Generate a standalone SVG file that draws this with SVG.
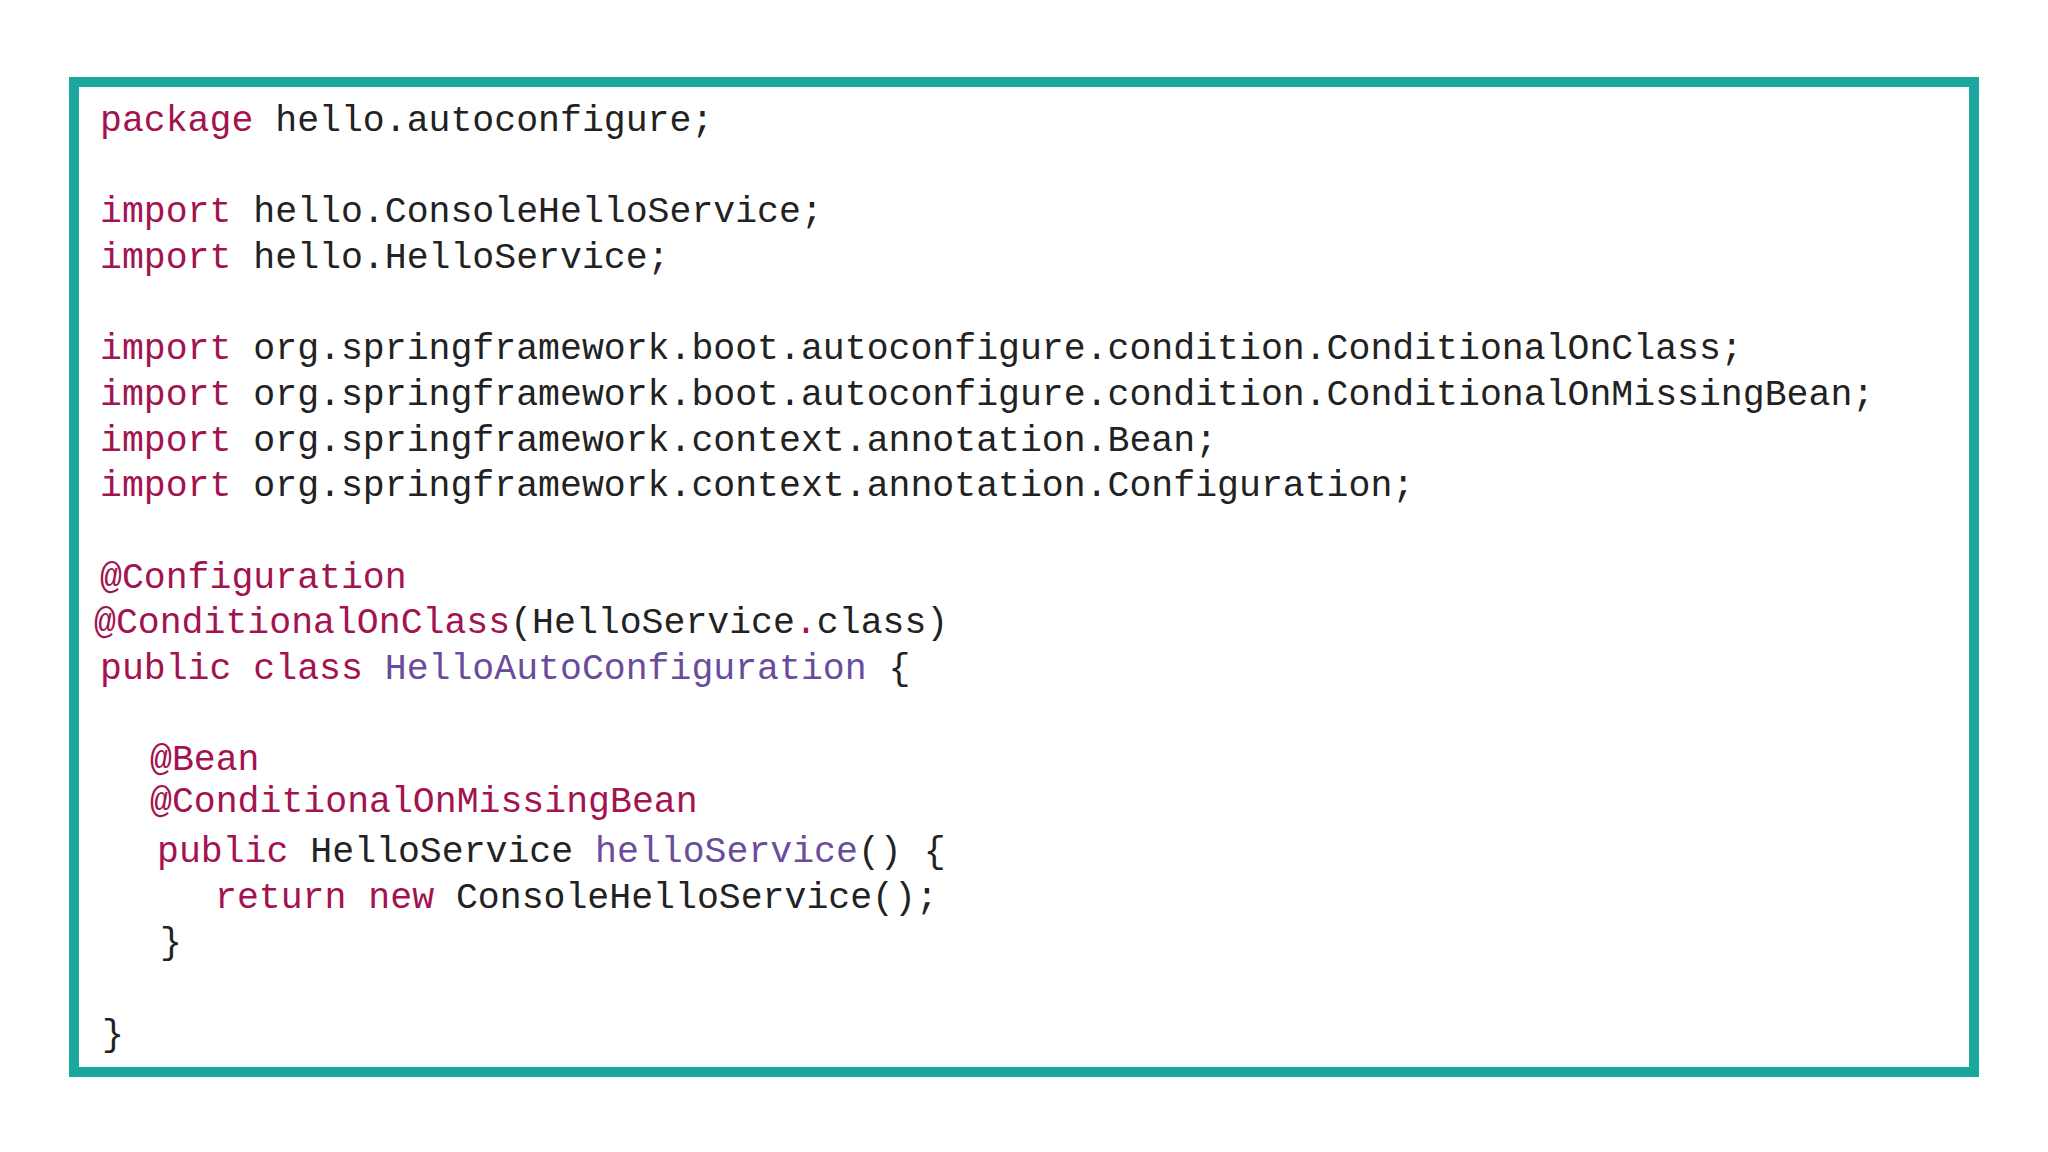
<svg xmlns="http://www.w3.org/2000/svg" width="2048" height="1152" viewBox="0 0 2048 1152">
<style>
text{font-family:"Liberation Mono","DejaVu Sans Mono",monospace;font-size:36.5px;fill:#222;white-space:pre}
.k{fill:#a3134f}.p{fill:#6a4c9c}
</style>
<rect width="2048" height="1152" fill="#fff"/>
<g id="frame"><rect x="74" y="82" width="1900" height="990" fill="none" stroke="#1aa89e" stroke-width="10"/></g>
<g id="code">
<text x="100" y="131"><tspan class="k">package</tspan> hello.autoconfigure;</text>
<text x="100" y="222"><tspan class="k">import</tspan> hello.ConsoleHelloService;</text>
<text x="100" y="268"><tspan class="k">import</tspan> hello.HelloService;</text>
<text x="100" y="359"><tspan class="k">import</tspan> org.springframework.boot.autoconfigure.condition.ConditionalOnClass;</text>
<text x="100" y="405"><tspan class="k">import</tspan> org.springframework.boot.autoconfigure.condition.ConditionalOnMissingBean;</text>
<text x="100" y="451"><tspan class="k">import</tspan> org.springframework.context.annotation.Bean;</text>
<text x="100" y="496"><tspan class="k">import</tspan> org.springframework.context.annotation.Configuration;</text>
<text x="100" y="588" class="k">@Configuration</text>
<text x="94" y="633"><tspan class="k">@ConditionalOnClass</tspan>(HelloService<tspan class="k">.</tspan>class)</text>
<text x="100" y="679"><tspan class="k">public class</tspan> <tspan class="p">HelloAutoConfiguration</tspan> {</text>
<text x="150" y="770" class="k">@Bean</text>
<text x="150" y="812" class="k">@ConditionalOnMissingBean</text>
<text x="157" y="862"><tspan class="k">public</tspan> HelloService <tspan class="p">helloService</tspan>() {</text>
<text x="215" y="908"><tspan class="k">return new</tspan> ConsoleHelloService();</text>
<text x="160" y="953">}</text>
<text x="102" y="1045">}</text>
</g>
</svg>
